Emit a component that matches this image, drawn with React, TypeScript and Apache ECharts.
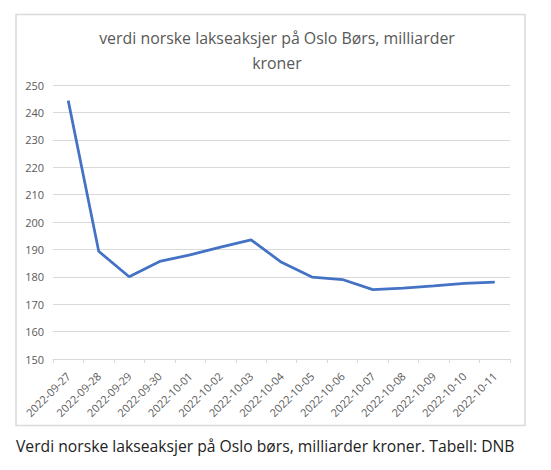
import React, { useEffect, useRef } from "react";
import * as echarts from "echarts";

const categories = [
  "2022-09-27", "2022-09-28", "2022-09-29", "2022-09-30", "2022-10-01",
  "2022-10-02", "2022-10-03", "2022-10-04", "2022-10-05", "2022-10-06",
  "2022-10-07", "2022-10-08", "2022-10-09", "2022-10-10", "2022-10-11",
];
const values = [244.3, 189.3, 180.0, 185.6, 188.0, 190.8, 193.5, 185.3, 179.9, 179.0, 175.3, 175.9, 176.7, 177.6, 178.1];
const titleText = "verdi norske lakseaksjer på Oslo Børs, milliarder\nkroner";
const captionText = "Verdi norske lakseaksjer på Oslo børs, milliarder kroner. Tabell: DNB";
const yMin = 150;
const yMax = 250;
const yStep = 10;

export default function App() {
  const ref = useRef<HTMLDivElement>(null);
  useEffect(() => {
    if (!ref.current) return;
    const chart = echarts.init(ref.current, undefined, { renderer: "svg" });
    chart.setOption({
      animation: false,
      backgroundColor: "#ffffff",
      title: {
        text: titleText,
        left: 272,
        top: 20,
        textAlign: "center",
        textStyle: {
          fontFamily: "Open Sans",
          fontSize: 15.9,
          fontWeight: "normal",
          color: "#595959",
          lineHeight: 25,
        },
      },
      graphic: [
        {
          type: "rect",
          shape: { x: 16, y: 14.5, width: 509, height: 411 },
          style: { fill: "none", stroke: "#d9d9d9", lineWidth: 1.5 },
          silent: true,
        },
        {
          type: "text",
          left: 16,
          top: 438,
          style: {
            text: captionText,
            fontFamily: "Open Sans",
            fontSize: 15.7,
            fill: "#222222",
          },
        },
      ],
      grid: { left: 53, right: 41, top: 85, bottom: 111 },
      xAxis: {
        type: "category",
        data: categories,
        boundaryGap: true,
        axisLine: { lineStyle: { color: "#d9d9d9", width: 1 } },
        axisTick: { show: true, length: 4, lineStyle: { color: "#d9d9d9" } },
        axisLabel: {
          rotate: 45,
          interval: 0,
          fontFamily: "Open Sans",
          fontSize: 11,
          color: "#595959",
          margin: 15,
        },
      },
      yAxis: {
        type: "value",
        min: yMin,
        max: yMax,
        interval: yStep,
        axisLine: { show: false },
        axisTick: { show: false },
        splitLine: { lineStyle: { color: "#d9d9d9", width: 1 } },
        axisLabel: {
          fontFamily: "Open Sans",
          fontSize: 11,
          color: "#595959",
          margin: 9,
        },
      },
      series: [
        {
          type: "line",
          data: values,
          showSymbol: false,
          symbol: "none",
          lineStyle: { color: "#4472C4", width: 2.75 },
          itemStyle: { color: "#4472C4" },
        },
      ],
    });
    return () => chart.dispose();
  }, []);
  return (
    <div
      ref={ref}
      style={{ position: "absolute", left: 0, top: 0, width: 551, height: 470 }}
    />
  );
}
